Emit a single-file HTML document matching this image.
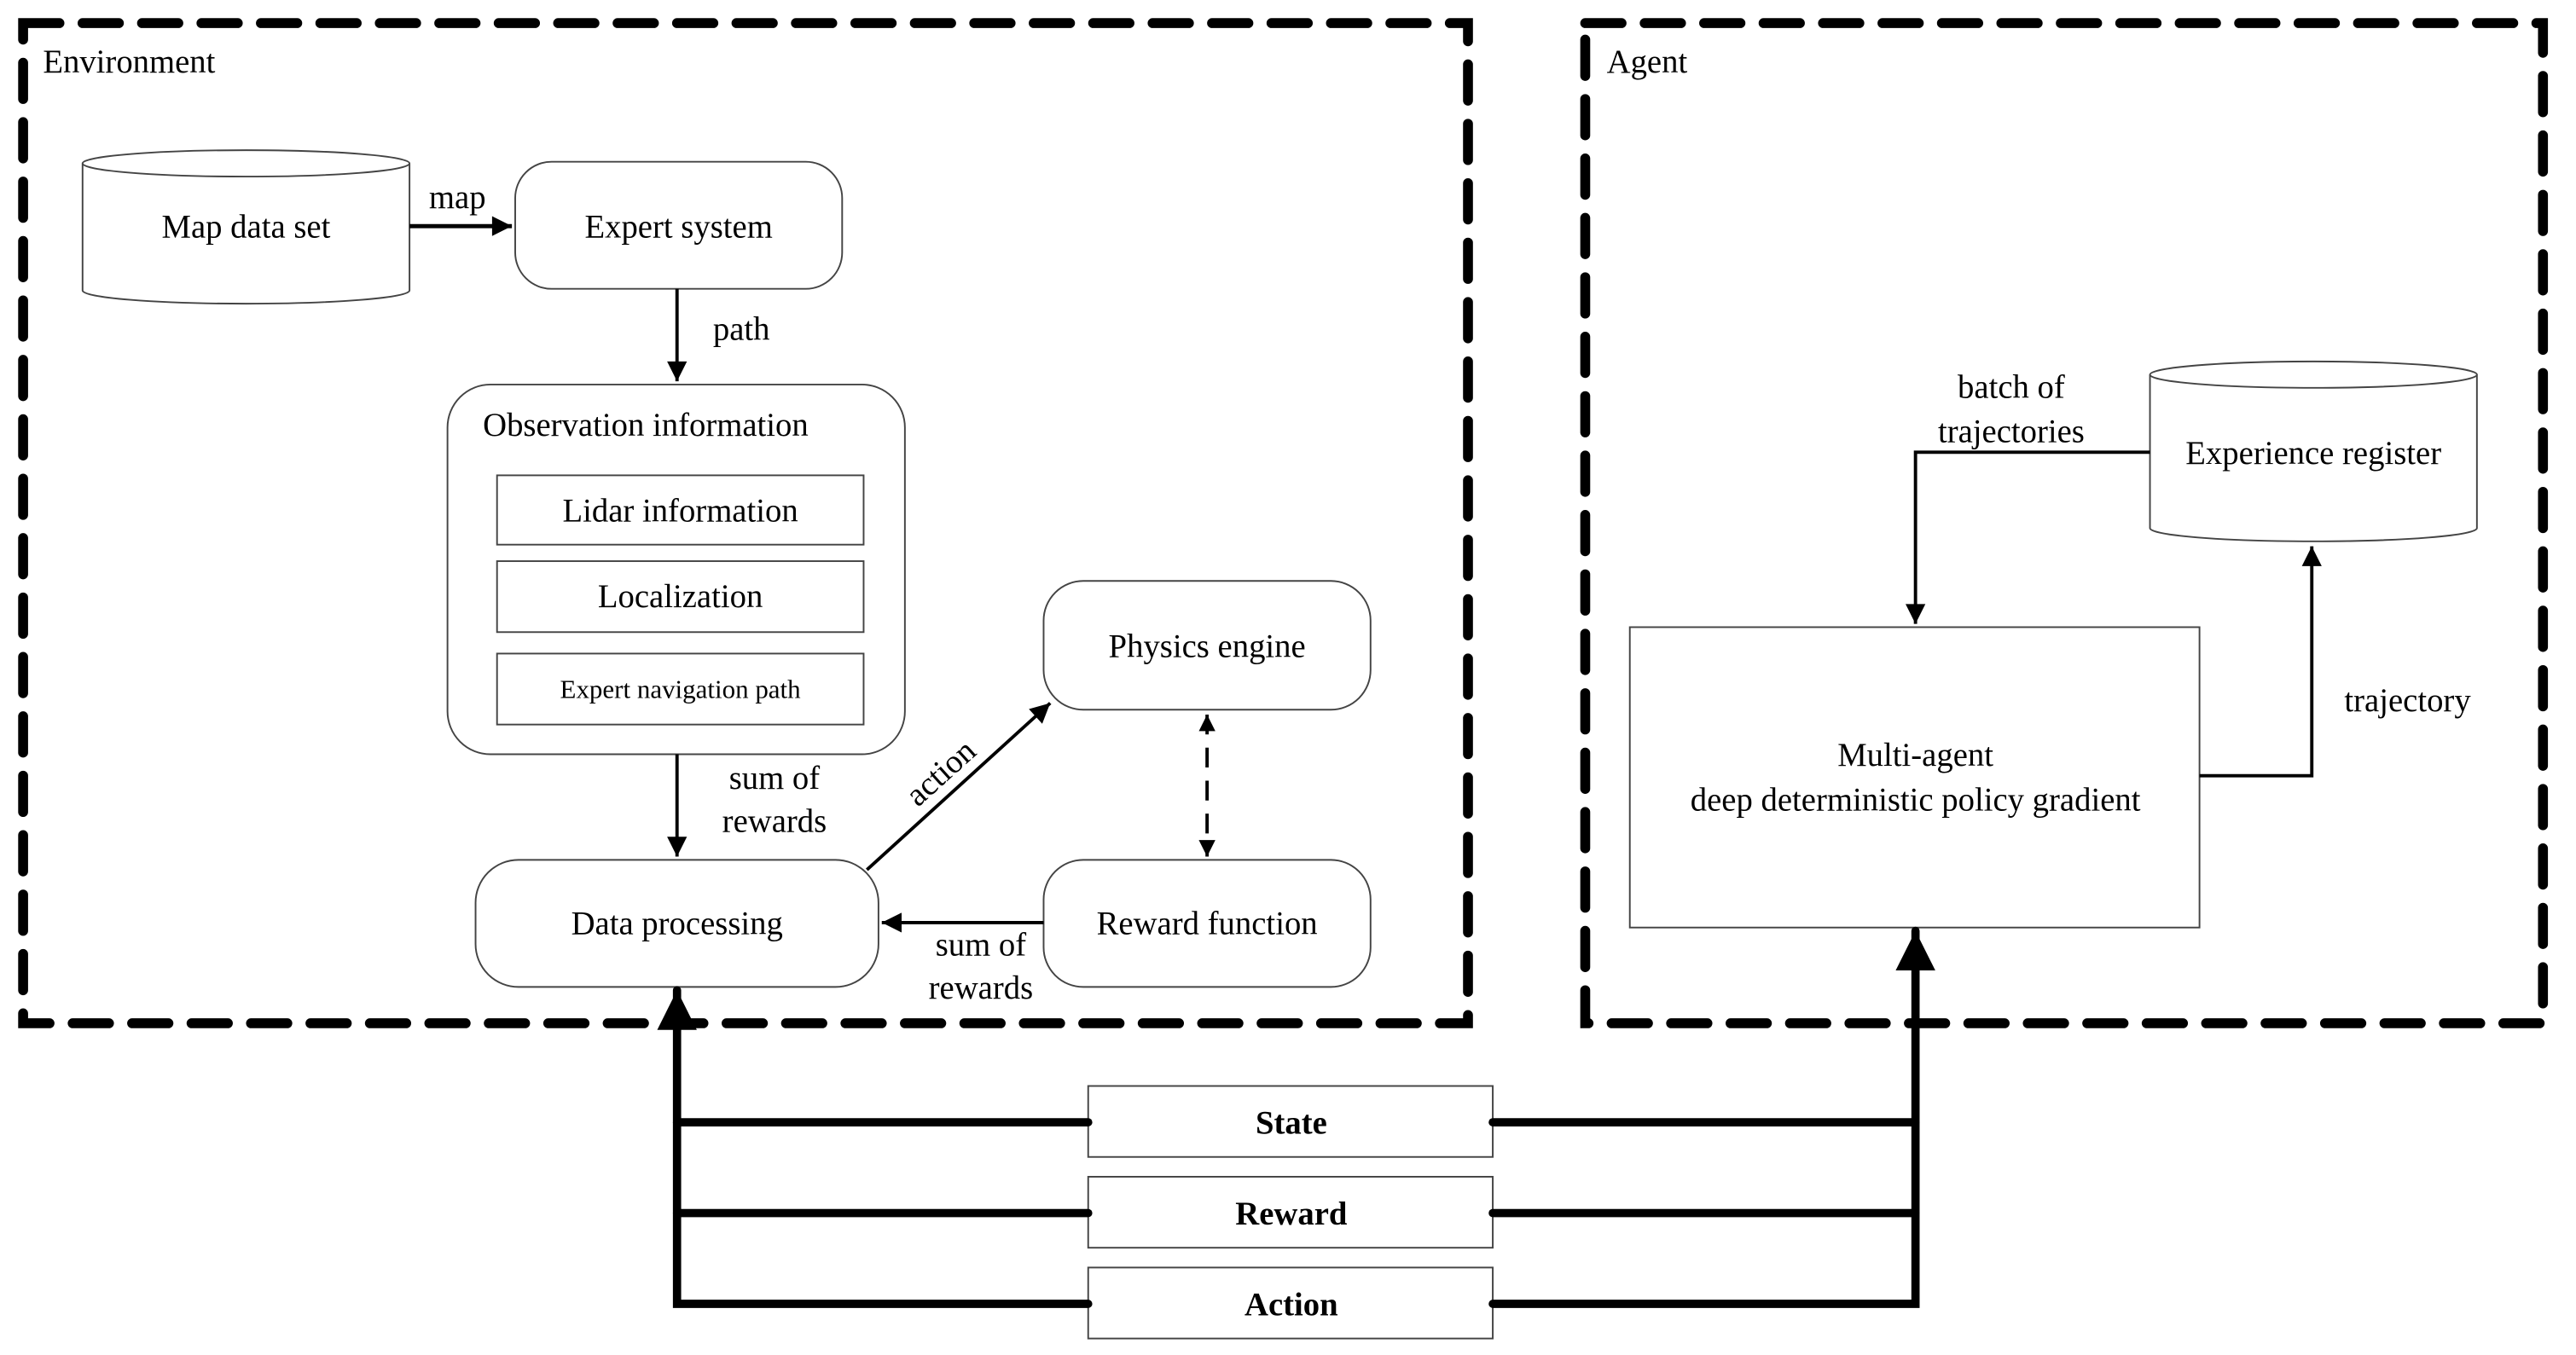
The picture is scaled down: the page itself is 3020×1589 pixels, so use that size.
<!DOCTYPE html>
<html><head><style>html,body{margin:0;padding:0;background:#fff}svg{display:block}</style></head>
<body>
<svg width="3020" height="1589" viewBox="0 0 1560 821" preserveAspectRatio="none" xmlns="http://www.w3.org/2000/svg" font-family="'Liberation Serif','Times New Roman','DejaVu Serif',serif">
<defs>
<marker id="a" viewBox="0 0 10 10" refX="10" refY="5" markerWidth="22" markerHeight="12" markerUnits="userSpaceOnUse" orient="auto"><path d="M0,0L10,5L0,10z"/></marker>
<marker id="b" viewBox="0 0 10 10" refX="10" refY="5" markerWidth="42" markerHeight="24" markerUnits="userSpaceOnUse" orient="auto"><path d="M0,0L10,5L0,10z"/></marker>
<marker id="c" viewBox="0 0 10 10" refX="10" refY="5" markerWidth="16" markerHeight="10" markerUnits="userSpaceOnUse" orient="auto-start-reverse"><path d="M0,0L10,5L0,10z"/></marker>
</defs>
<g fill="none" stroke="#000" stroke-width="6" stroke-dasharray="22 14" stroke-linecap="round">
<rect x="14" y="14" width="875" height="606"/>
<rect x="960" y="14" width="580" height="606"/>
</g>
<g font-size="20">
<text x="26" y="44">Environment</text>
<text x="973" y="44">Agent</text>
</g>
<g fill="#fff" stroke="#444" stroke-width="1">
<path d="M50,99 V176 A99,8 0 0 0 248,176 V99"/>
<ellipse cx="149" cy="99" rx="99" ry="8"/>
<rect x="312" y="98" width="198" height="77" rx="22"/>
<rect x="271" y="233" width="277" height="224" rx="26"/>
<rect x="301" y="288" width="222" height="42"/>
<rect x="301" y="340" width="222" height="43"/>
<rect x="301" y="396" width="222" height="43"/>
<rect x="288" y="521" width="244" height="77" rx="26"/>
<rect x="632" y="352" width="198" height="78" rx="24"/>
<rect x="632" y="521" width="198" height="77" rx="24"/>
<path d="M1302,227 V320 A99,8 0 0 0 1500,320 V227"/>
<ellipse cx="1401" cy="227" rx="99" ry="8"/>
<rect x="987" y="380" width="345" height="182"/>
<rect x="659" y="658" width="245" height="43"/>
<rect x="659" y="713" width="245" height="43"/>
<rect x="659" y="768" width="245" height="43"/>
</g>
<g stroke="#000" stroke-width="2" fill="none">
<line x1="248" y1="137" x2="310" y2="137" marker-end="url(#a)" stroke-width="2.5"/>
<line x1="410" y1="175" x2="410" y2="231" marker-end="url(#a)"/>
<line x1="410" y1="457" x2="410" y2="519" marker-end="url(#a)"/>
<line x1="525" y1="527" x2="636" y2="426" marker-end="url(#a)"/>
<line x1="632" y1="559" x2="534" y2="559" marker-end="url(#a)"/>
<line x1="731" y1="433" x2="731" y2="519" stroke-dasharray="12 8" marker-start="url(#c)" marker-end="url(#c)"/>
<polyline points="1302,274 1160,274 1160,378" marker-end="url(#a)"/>
<polyline points="1332,470 1400,470 1400,331" marker-end="url(#a)"/>
</g>
<g stroke="#000" stroke-width="5" fill="none" stroke-linecap="round">
<polyline points="659,680 410,680"/><polyline points="659,735 410,735"/><polyline points="659,790 410,790 410,600" marker-end="url(#b)"/>
<polyline points="904,680 1160,680"/><polyline points="904,735 1160,735"/><polyline points="904,790 1160,790 1160,564" marker-end="url(#b)"/>
</g>
<g font-size="20" text-anchor="middle">
<text x="149" y="144">Map data set</text>
<text x="277" y="126">map</text>
<text x="411" y="144">Expert system</text>
<text x="449" y="206">path</text>
<text x="391" y="264">Observation information</text>
<text x="412" y="316">Lidar information</text>
<text x="412" y="368">Localization</text>
<text x="412" y="423" font-size="16">Expert navigation path</text>
<text x="469" y="478">sum of</text>
<text x="469" y="504">rewards</text>
<text x="410" y="566">Data processing</text>
<text x="731" y="398">Physics engine</text>
<text x="731" y="566">Reward function</text>
<text x="594" y="579">sum of</text>
<text x="594" y="605">rewards</text>
<text x="0" y="0" transform="translate(574,473) rotate(-42)">action</text>
<text x="1401" y="281">Experience register</text>
<text x="1218" y="241">batch of</text>
<text x="1218" y="268">trajectories</text>
<text x="1458" y="431">trajectory</text>
<text x="1160" y="464">Multi-agent</text>
<text x="1160" y="491">deep deterministic policy gradient</text>
<text x="782" y="687" font-weight="bold">State</text>
<text x="782" y="742" font-weight="bold">Reward</text>
<text x="782" y="797" font-weight="bold">Action</text>
</g>
</svg>
</body></html>
